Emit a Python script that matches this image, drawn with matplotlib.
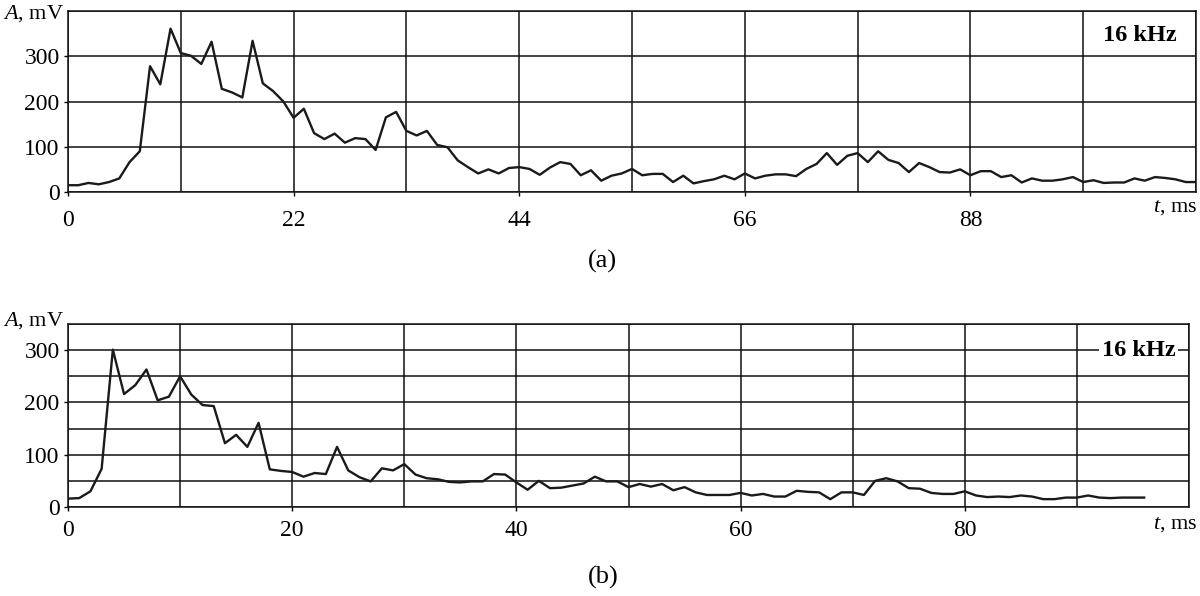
import matplotlib
matplotlib.use("Agg")
import matplotlib.pyplot as plt
import numpy as np

plt.rcParams['font.family'] = ['Liberation Serif', 'DejaVu Serif']
plt.rcParams['mathtext.fontset'] = 'custom'
plt.rcParams['mathtext.it'] = 'Liberation Serif:italic'

# Panel (a): 16 kHz, samples every 1 ms from 0 to 110 ms
t_a = list(range(0, 111))
amp_a = [15, 15, 20, 17, 22, 30, 66, 90, 278, 238,
         361, 307, 301, 283, 332, 228, 220, 209, 334, 240,
         223, 200, 164, 184, 130, 117, 129, 109, 119, 117,
         93, 165, 177, 135, 125, 135, 104, 99, 70, 55,
         41, 50, 41, 53, 55, 51, 38, 54, 66, 62,
         37, 48, 25, 36, 41, 51, 37, 40, 40, 22,
         36, 19, 24, 28, 36, 28, 41, 30, 36, 39,
         39, 35, 51, 62, 86, 60, 80, 86, 66, 90,
         71, 64, 44, 64, 55, 44, 43, 50, 37, 46,
         46, 33, 37, 21, 30, 25, 25, 28, 33, 22,
         26, 20, 21, 21, 30, 25, 33, 31, 28, 22,
         22]

# Panel (b): 16 kHz, samples every 1 ms from 0 to 96 ms
t_b = list(range(0, 97))
amp_b = [16, 17, 30, 73, 301, 216, 233, 263, 204, 211,
         250, 215, 195, 193, 122, 138, 115, 161, 72, 69,
         67, 58, 65, 63, 115, 70, 57, 49, 74, 70,
         82, 62, 55, 53, 48, 47, 49, 49, 63, 62,
         47, 33, 50, 36, 37, 41, 45, 58, 49, 49,
         38, 44, 39, 44, 32, 38, 28, 23, 23, 23,
         27, 22, 25, 20, 20, 31, 29, 28, 15, 28,
         28, 23, 50, 55, 49, 36, 35, 27, 25, 25,
         30, 22, 19, 20, 19, 22, 20, 15, 15, 18,
         18, 22, 18, 17, 18, 18, 18]

xticks_a = [0, 22, 44, 66, 88]
xticks_b = [0, 20, 40, 60, 80]
yticks_a = [0, 100, 200, 300]
yticks_b = [0, 100, 200, 300]

fig = plt.figure(figsize=(12, 5.96), dpi=100)
ax1 = fig.add_axes([68/1200, 1-192/596, (1196-68)/1200, (192-11)/596])
ax2 = fig.add_axes([68/1200, 1-507/596, (1189-68)/1200, (507-324)/596])

def style(ax, xmax, xgrid, xticks, ymax, ygrid, yticks, xpad):
    ax.set_xlim(0, xmax)
    ax.set_ylim(0, ymax)
    for x in xgrid:
        ax.axvline(x, color='#111111', lw=1.1, zorder=1)
    for y in ygrid:
        ax.axhline(y, color='#111111', lw=1.1, zorder=1)
    ax.set_xticks(xticks)
    ax.set_yticks(yticks)
    ax.tick_params(axis='x', length=3, width=1, pad=xpad, labelsize=17, direction='out')
    ax.tick_params(axis='y', length=3, width=1, pad=3, labelsize=17, direction='out')
    for s in ax.spines.values():
        s.set_linewidth(1.1)
        s.set_color('#111111')

style(ax1, 110, np.arange(0, 111, 11), xticks_a, 400, np.arange(0, 401, 100), yticks_a, 10)
style(ax2, 100, np.arange(0, 101, 10), xticks_b, 350, np.arange(0, 351, 50), yticks_b, 6)

ax1.plot(t_a, amp_a, color='#1a1a1a', lw=1.7, zorder=3)
ax2.plot(t_b, amp_b, color='#1a1a1a', lw=1.7, zorder=3)

# axis labels
fig.text(3/1200, 1-14/596, r'$\mathit{A}$, mV', fontsize=16, va='center', ha='left')
fig.text(3/1200, 1-321/596, r'$\mathit{A}$, mV', fontsize=16, va='center', ha='left')
fig.text(1197/1200, 1-208/596, r'$\mathit{t}$, ms', fontsize=16, va='center', ha='right')
fig.text(1197/1200, 1-524/596, r'$\mathit{t}$, ms', fontsize=16, va='center', ha='right')

# 16 kHz labels
ax1.text(104.5, 345, '16 kHz', fontsize=17.5, fontweight='bold', ha='center', va='center',
         zorder=4, bbox=dict(facecolor='white', edgecolor='none', pad=1))
ax2.text(95.5, 300, '16 kHz', fontsize=17.5, fontweight='bold', ha='center', va='center',
         zorder=4, bbox=dict(facecolor='white', edgecolor='none', pad=2))

fig.text(602/1200, 1-261/596, '(a)', fontsize=19, ha='center', va='center')
fig.text(603/1200, 1-577/596, '(b)', fontsize=19, ha='center', va='center')

fig.savefig('out.png', dpi=100, facecolor='white')
